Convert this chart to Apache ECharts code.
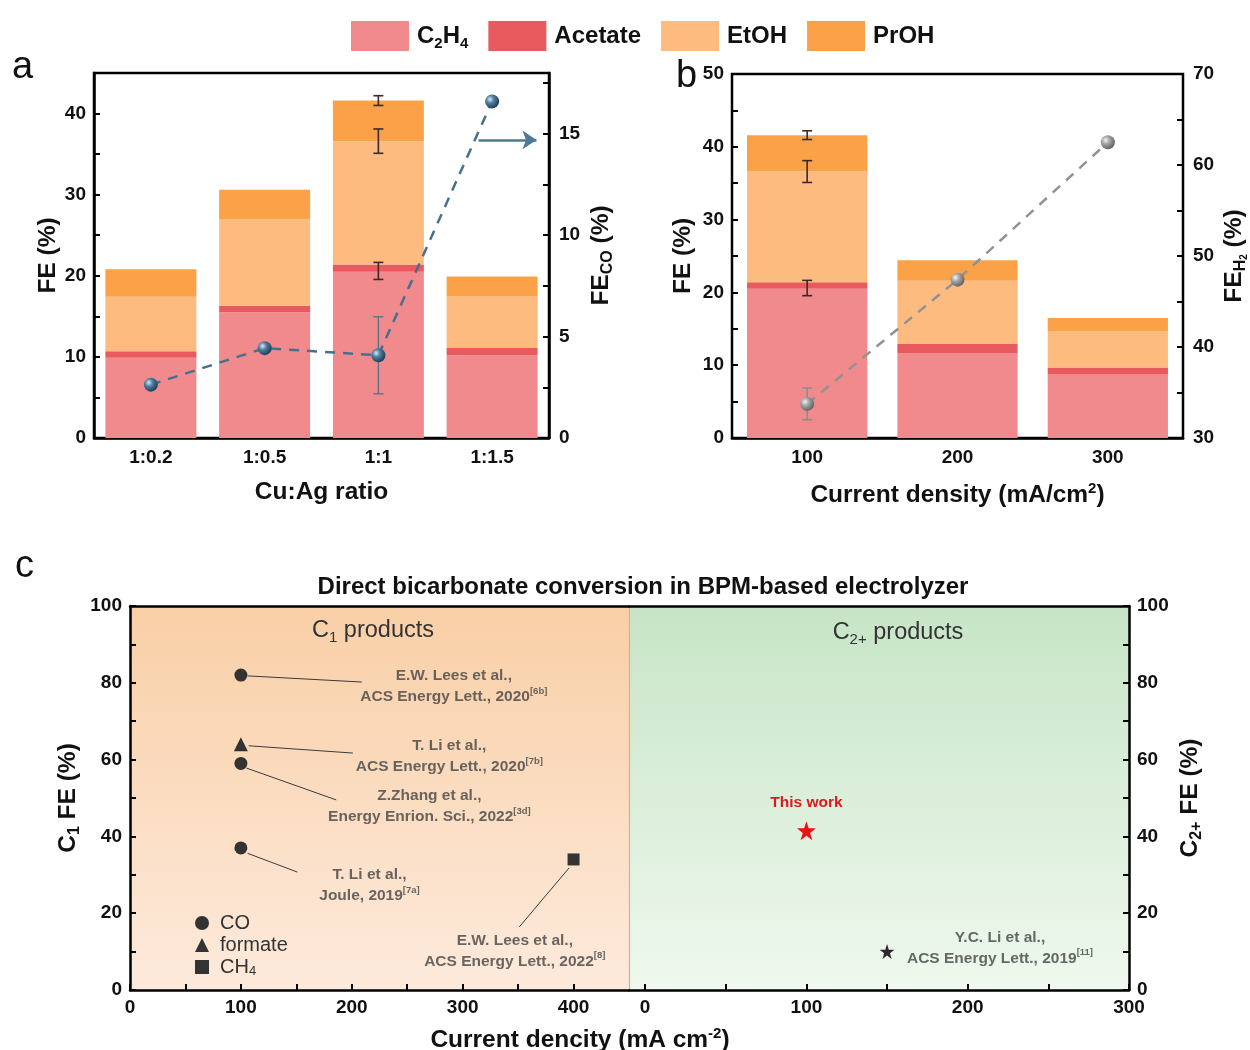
<!DOCTYPE html>
<html>
<head>
<meta charset="utf-8">
<script src="https://cdn.jsdelivr.net/npm/echarts@6.0.0/dist/echarts.min.js"></script>
<style>
html,body{margin:0;padding:0;background:#fff;}
#chart{width:1250px;height:1050px;}
</style>
</head>
<body>
<div id="chart"></div>
<script>
// ---------- Data ----------
const productNames = ['C2H4', 'Acetate', 'EtOH', 'PrOH'];

// Panel a
const ratioCats = ['1:0.2', '1:0.5', '1:1', '1:1.5'];
const c2h4A = [9.9, 15.5, 20.5, 10.2];
const acetateA = [0.8, 0.8, 0.9, 0.9];
const etohA = [6.7, 10.7, 15.2, 6.4];
const prohA = [3.4, 3.6, 5.0, 2.4];
const feCO = [2.63, 4.43, 4.08, 16.6];
const feCOErr = [['1:1', 4.08, 1.9]];
const barErrA = [['1:1', 20.6, 1.05], ['1:1', 36.6, 1.5], ['1:1', 41.6, 0.6]];
const arrowA = [[2.88, 14.7], [3.39, 14.7]];

// Panel b
const currentCats = ['100', '200', '300'];
const c2h4B = [20.5, 11.6, 8.8];
const acetateB = [0.9, 1.3, 0.9];
const etohB = [15.2, 8.7, 5.0];
const prohB = [5.0, 2.8, 1.8];
const feH2 = [33.75, 47.4, 62.5];
const feH2Err = [['100', 33.75, 1.75]];
const barErrB = [['100', 20.6, 1.05], ['100', 36.6, 1.5], ['100', 41.6, 0.6]];

// Panel c (left: C1 products, right: C2+ products)
const c1CO = [[100, 82], [100, 59], [100, 37]];
const c1Formate = [[100, 64]];
const c1CH4 = [[400, 34]];
const c2ThisWork = [[100, 41.5]];
const c2Other = [[150, 10]];
const refLeftPos = [[292, 79], [288, 60.8], [270, 47.8], [216, 27.2], [347, 10.2]];
const refLeftA = ['E.W. Lees et al.,', 'T. Li et al.,', 'Z.Zhang et al.,', 'T. Li et al.,', 'E.W. Lees et al.,'];
const refLeftB = ['ACS Energy Lett., 2020', 'ACS Energy Lett., 2020', 'Energy Enrion. Sci., 2022', 'Joule, 2019', 'ACS Energy Lett., 2022'];
const refLeftSup = ['6b', '7b', '3d', '7a', '8'];
const refRightPos = [[220, 11]];
const refRightA = ['Y.C. Li et al.,'];
const refRightB = ['ACS Energy Lett., 2019'];
const refRightSup = ['11'];
const leaders = [
  [[106, 81.8], [209, 80.2]],
  [[107, 63.6], [201, 61.7]],
  [[105, 57.8], [186, 49.5]],
  [[106, 35.6], [151, 30.7]],
  [[396, 31.8], [351, 16.4]]
];

// ---------- Styles ----------
const FONT = 'Liberation Sans, Arial, sans-serif';
const colors = {C2H4: '#f08a8c', Acetate: '#e85a5e', EtOH: '#fdbb80', PrOH: '#fba248'};
const AX = {onZero: false, lineStyle: {color: '#000', width: 2.5}};
const tickIn = {show: true, inside: true, length: 6, lineStyle: {color: '#000', width: 2}};
const lbl = {color: '#111', fontSize: 19, fontWeight: 'bold', fontFamily: FONT};
const nameStyle = {
  color: '#111', fontSize: 24.5, fontWeight: 'bold', fontFamily: FONT,
  rich: {
    b: {fontSize: 24.5, fontWeight: 'bold', fontFamily: FONT, color: '#111', lineHeight: 29},
    s: {fontSize: 16, fontWeight: 'bold', fontFamily: FONT, color: '#111', verticalAlign: 'bottom'},
    ss: {fontSize: 10, fontWeight: 'bold', fontFamily: FONT, color: '#111', verticalAlign: 'bottom'},
    sup: {fontSize: 15, fontWeight: 'bold', fontFamily: FONT, color: '#111', verticalAlign: 'top'}
  }
};

function ball(c0, c1, c2) {
  return {type: 'radial', x: 0.35, y: 0.35, r: 0.7,
    colorStops: [{offset: 0, color: c0}, {offset: 0.4, color: c1}, {offset: 1, color: c2}]};
}

function errRender(color, cap, lw) {
  return function (params, api) {
    const x = api.value(0), y = api.value(1), e = api.value(2);
    const t = api.coord([x, y + e]);
    const b = api.coord([x, y - e]);
    const st = {stroke: color, lineWidth: lw};
    return {type: 'group', children: [
      {type: 'line', shape: {x1: t[0], y1: t[1], x2: b[0], y2: b[1]}, style: st},
      {type: 'line', shape: {x1: t[0] - cap, y1: t[1], x2: t[0] + cap, y2: t[1]}, style: st},
      {type: 'line', shape: {x1: b[0] - cap, y1: b[1], x2: b[0] + cap, y2: b[1]}, style: st}
    ]};
  };
}

function bars(stack, xi, yi, arrs) {
  return productNames.map((n, i) => ({
    name: n, type: 'bar', stack: stack, xAxisIndex: xi, yAxisIndex: yi,
    data: arrs[i], barWidth: '80%', itemStyle: {color: colors[n]}, z: 2
  }));
}

const refRich = {
  t: {fontSize: 15.5, fontWeight: 'bold', fontFamily: FONT, color: '#444', lineHeight: 21},
  sup: {fontSize: 9.5, fontWeight: 'bold', fontFamily: FONT, color: '#444', verticalAlign: 'top'}
};
const panelLetter = {fontSize: 38, fontWeight: 'normal', color: '#111', fontFamily: FONT};
const prodRich = {
  n: {fontSize: 23.5, fontWeight: 'normal', color: '#333', fontFamily: FONT, lineHeight: 28},
  s: {fontSize: 15, fontWeight: 'normal', color: '#333', fontFamily: FONT, verticalAlign: 'bottom'}
};
const STAR = 'path://M50,0 L61.8,36.2 L100,36.2 L69.1,58.8 L80.9,95.1 L50,72.7 L19.1,95.1 L30.9,58.8 L0,36.2 L38.2,36.2 Z';

const option = {
  animation: false,
  backgroundColor: '#fff',
  textStyle: {fontFamily: FONT},
  title: [
    {text: 'a', left: 7, top: 44, textStyle: panelLetter},
    {text: 'b', left: 671, top: 53, textStyle: panelLetter},
    {text: 'c', left: 10, top: 543, textStyle: panelLetter},
    {text: 'Direct bicarbonate conversion in BPM-based electrolyzer', left: 638, top: 570, textAlign: 'center',
      textStyle: {fontSize: 24, fontWeight: 'bold', color: '#111', fontFamily: FONT}},
    {text: '{n|C}{s|1}{n| products}', left: 368, top: 612, textAlign: 'center', textStyle: {rich: prodRich}},
    {text: '{n|C}{s|2+}{n| products}', left: 893, top: 614, textAlign: 'center', textStyle: {rich: prodRich}},
    {text: '{b|Current dencity (mA cm}{sup|-2}{b|)}', left: 575, top: 1021, textAlign: 'center',
      textStyle: {rich: nameStyle.rich}}
  ],
  legend: [
    {
      data: productNames, left: 346, top: 16, itemWidth: 58, itemHeight: 30, itemGap: 20,
      icon: 'rect', selectedMode: false,
      formatter: n => n === 'C2H4' ? '{b|C}{s|2}{b|H}{s|4}' : '{b|' + n + '}',
      textStyle: {padding: [0, 0, 0, 3], rich: {
        b: {fontSize: 24, fontWeight: 'bold', fontFamily: FONT, color: '#111', lineHeight: 30},
        s: {fontSize: 15, fontWeight: 'bold', fontFamily: FONT, color: '#111', verticalAlign: 'bottom'}}}
    },
    {
      data: ['CO', 'formate', 'CH4'], left: 190, top: 908, orient: 'vertical',
      itemWidth: 14, itemHeight: 14, itemGap: 2, selectedMode: false,
      formatter: n => n === 'CH4' ? '{b|CH}{s|4}' : '{b|' + n + '}',
      textStyle: {padding: [0, 0, 0, 6], rich: {
        b: {fontSize: 20, fontFamily: FONT, color: '#333', lineHeight: 22},
        s: {fontSize: 13, fontFamily: FONT, color: '#333', verticalAlign: 'bottom'}}}
    }
  ],
  grid: [
    {left: 94, top: 73, width: 455, height: 365, show: true, borderColor: '#000', borderWidth: 2.5, backgroundColor: 'transparent'},
    {left: 732, top: 74, width: 455, height: 364, show: true, borderColor: '#000', borderWidth: 2.5, backgroundColor: 'transparent'},
    {left: 130, top: 606, width: 499, height: 384, show: true, borderWidth: 0,
      backgroundColor: {type: 'linear', x: 0, y: 0, x2: 0, y2: 1, colorStops: [{offset: 0, color: '#f9cfa6'}, {offset: 1, color: '#fdeadc'}]}},
    {left: 629, top: 606, width: 500, height: 384, show: true, borderWidth: 0,
      backgroundColor: {type: 'linear', x: 0, y: 0, x2: 0, y2: 1, colorStops: [{offset: 0, color: '#c7e5c6'}, {offset: 1, color: '#eff8ee'}]}}
  ],
  xAxis: [
    {type: 'category', gridIndex: 0, data: ratioCats, axisLine: AX,
      axisTick: {show: true, inside: true, length: 6, alignWithLabel: true, lineStyle: {color: '#000', width: 2}},
      axisLabel: Object.assign({margin: 10}, lbl),
      name: 'Cu:Ag ratio', nameLocation: 'middle', nameGap: 42, nameTextStyle: nameStyle},
    {type: 'value', gridIndex: 0, min: -0.5, max: 3.5, show: false},
    {type: 'category', gridIndex: 1, data: currentCats, axisLine: AX,
      axisTick: {show: true, inside: true, length: 6, alignWithLabel: true, lineStyle: {color: '#000', width: 2}},
      axisLabel: Object.assign({margin: 10}, lbl),
      name: '{b|Current density (mA/cm}{sup|2}{b|)}', nameLocation: 'middle', nameGap: 43, nameTextStyle: nameStyle},
    {type: 'value', gridIndex: 2, min: 0, max: 450, axisLine: AX, splitLine: {show: false},
      axisTick: Object.assign({customValues: [0, 50, 100, 150, 200, 250, 300, 350, 400]}, tickIn),
      axisLabel: Object.assign({customValues: [0, 100, 200, 300, 400], margin: 8}, lbl)},
    {type: 'value', gridIndex: 3, min: -10, max: 300, axisLine: AX, splitLine: {show: false},
      axisTick: Object.assign({customValues: [0, 50, 100, 150, 200, 250, 300]}, tickIn),
      axisLabel: Object.assign({customValues: [0, 100, 200, 300], margin: 8}, lbl)},
    {type: 'value', gridIndex: 2, position: 'top', min: 0, max: 450, axisLine: AX,
      axisTick: {show: false}, axisLabel: {show: false}, splitLine: {show: false}},
    {type: 'value', gridIndex: 3, position: 'top', min: -10, max: 300, axisLine: AX,
      axisTick: {show: false}, axisLabel: {show: false}, splitLine: {show: false}}
  ],
  yAxis: [
    {type: 'value', gridIndex: 0, min: 0, max: 45, axisLine: AX, splitLine: {show: false},
      axisTick: Object.assign({customValues: [0, 5, 10, 15, 20, 25, 30, 35, 40]}, tickIn),
      axisLabel: Object.assign({customValues: [0, 10, 20, 30, 40], margin: 8}, lbl),
      name: '{b|FE (%)}', nameLocation: 'middle', nameGap: 31, nameTextStyle: nameStyle},
    {type: 'value', gridIndex: 0, position: 'right', min: 0, max: 18, axisLine: AX, splitLine: {show: false},
      axisTick: Object.assign({customValues: [0, 2.5, 5, 7.5, 10, 12.5, 15, 17.5]}, tickIn),
      axisLabel: Object.assign({customValues: [0, 5, 10, 15], margin: 10}, lbl),
      name: '{b|FE}{s|CO}{b| (%)}', nameLocation: 'middle', nameGap: 38, nameTextStyle: nameStyle},
    {type: 'value', gridIndex: 1, min: 0, max: 50, interval: 10, axisLine: AX, splitLine: {show: false},
      axisTick: Object.assign({customValues: [0, 5, 10, 15, 20, 25, 30, 35, 40, 45, 50]}, tickIn),
      axisLabel: Object.assign({margin: 8}, lbl),
      name: '{b|FE (%)}', nameLocation: 'middle', nameGap: 34, nameTextStyle: nameStyle},
    {type: 'value', gridIndex: 1, position: 'right', min: 30, max: 70, interval: 10, axisLine: AX, splitLine: {show: false},
      axisTick: Object.assign({customValues: [30, 35, 40, 45, 50, 55, 60, 65, 70]}, tickIn),
      axisLabel: Object.assign({margin: 10}, lbl),
      name: '{b|FE}{s|H}{ss|2}{b| (%)}', nameLocation: 'middle', nameGap: 37, nameTextStyle: nameStyle},
    {type: 'value', gridIndex: 2, min: 0, max: 100, interval: 20, axisLine: AX, splitLine: {show: false},
      axisTick: Object.assign({customValues: [0, 10, 20, 30, 40, 50, 60, 70, 80, 90, 100]}, tickIn),
      axisLabel: Object.assign({margin: 8}, lbl),
      name: '{b|C}{s|1}{b| FE (%)}', nameLocation: 'middle', nameGap: 47, nameTextStyle: nameStyle},
    {type: 'value', gridIndex: 3, position: 'right', min: 0, max: 100, interval: 20, axisLine: AX, splitLine: {show: false},
      axisTick: Object.assign({customValues: [0, 10, 20, 30, 40, 50, 60, 70, 80, 90, 100]}, tickIn),
      axisLabel: Object.assign({margin: 8}, lbl),
      name: '{b|C}{s|2+}{b| FE (%)}', nameLocation: 'middle', nameGap: 47, nameTextStyle: nameStyle},
    {type: 'value', gridIndex: 2, position: 'right', min: 0, max: 100,
      axisLine: {onZero: false, lineStyle: {color: '#d7b08e', width: 1.2}},
      axisTick: {show: false}, axisLabel: {show: false}, splitLine: {show: false}}
  ],
  series: [
    ...bars('a', 0, 0, [c2h4A, acetateA, etohA, prohA]),
    ...bars('b', 2, 2, [c2h4B, acetateB, etohB, prohB]),
    {type: 'custom', xAxisIndex: 0, yAxisIndex: 0, data: barErrA, renderItem: errRender('#3b2a28', 5, 1.6), z: 5},
    {type: 'custom', xAxisIndex: 2, yAxisIndex: 2, data: barErrB, renderItem: errRender('#3b2a28', 5, 1.6), z: 5},
    {type: 'custom', xAxisIndex: 0, yAxisIndex: 1, data: feCOErr, renderItem: errRender('#5f7284', 5, 1.4), z: 5},
    {type: 'custom', xAxisIndex: 2, yAxisIndex: 3, data: feH2Err, renderItem: errRender('#8a8a8a', 5, 1.4), z: 5},
    {name: 'FE CO', type: 'line', xAxisIndex: 0, yAxisIndex: 1, data: feCO, z: 6,
      lineStyle: {color: '#48708c', width: 2.5, type: [10, 8]},
      symbol: 'circle', symbolSize: 14,
      itemStyle: {color: ball('#d7e8f3', '#4f7e9e', '#1c3a52')}},
    {name: 'FE H2', type: 'line', xAxisIndex: 2, yAxisIndex: 3, data: feH2, z: 6,
      lineStyle: {color: '#929292', width: 2.5, type: [10, 8]},
      symbol: 'circle', symbolSize: 14,
      itemStyle: {color: ball('#f4f4f4', '#a5a5a5', '#5e5e5e')}},
    {type: 'lines', coordinateSystem: 'cartesian2d', xAxisIndex: 1, yAxisIndex: 1, z: 6,
      data: [{coords: arrowA}], symbol: ['none', 'arrow'], symbolSize: [6, 14],
      lineStyle: {color: '#4d7896', width: 2.5, opacity: 1}},
    // panel c
    {type: 'lines', coordinateSystem: 'cartesian2d', xAxisIndex: 3, yAxisIndex: 4, z: 3,
      data: leaders.map(c => ({coords: c})), lineStyle: {color: '#3a3a3a', width: 1, opacity: 1}},
    {name: 'CO', type: 'scatter', xAxisIndex: 3, yAxisIndex: 4, data: c1CO, symbol: 'circle', symbolSize: 13,
      itemStyle: {color: '#333', opacity: 1}, z: 4},
    {name: 'formate', type: 'scatter', xAxisIndex: 3, yAxisIndex: 4, data: c1Formate, symbol: 'triangle', symbolSize: 14,
      itemStyle: {color: '#333', opacity: 1}, z: 4},
    {name: 'CH4', type: 'scatter', xAxisIndex: 3, yAxisIndex: 4, data: c1CH4, symbol: 'rect', symbolSize: 12,
      itemStyle: {color: '#333', opacity: 1}, z: 4},
    {type: 'scatter', xAxisIndex: 3, yAxisIndex: 4, data: refLeftPos, symbolSize: 0, silent: true, z: 4,
      label: {show: true, position: 'inside', align: 'center', verticalAlign: 'middle',
        formatter: p => '{t|' + refLeftA[p.dataIndex] + '}\n{t|' + refLeftB[p.dataIndex] + '}{sup|[' + refLeftSup[p.dataIndex] + ']}',
        rich: refRich}},
    {name: 'This work', type: 'scatter', xAxisIndex: 4, yAxisIndex: 5, data: c2ThisWork, symbol: STAR,
      symbolSize: 19, itemStyle: {color: '#ee1111', opacity: 1}, z: 4,
      label: {show: true, position: 'top', distance: 10, formatter: 'This work',
        color: '#e0181e', fontSize: 15.5, fontWeight: 'bold', fontFamily: FONT}},
    {type: 'scatter', xAxisIndex: 4, yAxisIndex: 5, data: c2Other, symbol: STAR,
      symbolSize: 15, itemStyle: {color: '#2a2a2a', opacity: 1}, z: 4},
    {type: 'scatter', xAxisIndex: 4, yAxisIndex: 5, data: refRightPos, symbolSize: 0, silent: true, z: 4,
      label: {show: true, position: 'inside', align: 'center', verticalAlign: 'middle',
        formatter: p => '{t|' + refRightA[p.dataIndex] + '}\n{t|' + refRightB[p.dataIndex] + '}{sup|[' + refRightSup[p.dataIndex] + ']}',
        rich: refRich}}
  ]
};

const chart = echarts.init(document.getElementById('chart'), null, {renderer: 'canvas'});
chart.setOption(option);
</script>
</body>
</html>
